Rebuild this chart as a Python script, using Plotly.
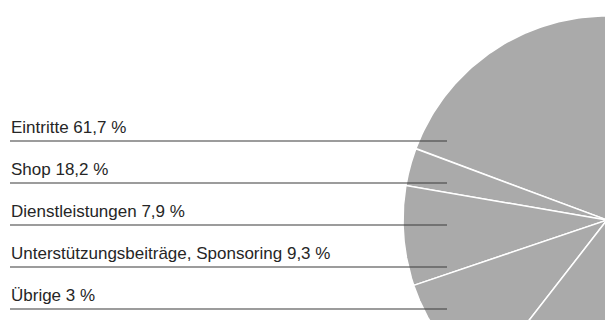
import numpy as np
import plotly.graph_objects as go

# ---- data ----
categories = ["Eintritte", "Shop", "Dienstleistungen",
              "Unterstützungsbeiträge, Sponsoring", "Übrige"]
shares = [61.7, 18.2, 7.9, 9.3, 3.0]
share_labels = ["61,7 %", "18,2 %", "7,9 %", "9,3 %", "3 %"]
# order in which the slices are laid around the pie (counter‑clockwise from Eintritte)
slice_order = ["Eintritte", "Übrige", "Dienstleistungen",
               "Unterstützungsbeiträge, Sponsoring", "Shop"]

# ---- layout parameters ----
W, H = 605, 320
CX, CY, R = 607, 220, 204          # pie centre / radius (screen pixel space)
END_ANGLE_FIRST = 159.5            # degrees (math convention) where first slice ends
PIE_GREY = "#aaaaaa"
TEXT_COL = "#262626"
LINE_COL = "#3a3a3a"
FONT = "Liberation Sans, Arial, sans-serif"

fig = go.Figure()

total = sum(shares)
val = dict(zip(categories, shares))
start = END_ANGLE_FIRST - val[slice_order[0]] / total * 360.0
for cat in slice_order:
    sweep = val[cat] / total * 360.0
    a = np.radians(np.linspace(start, start + sweep, 200))
    xs = np.concatenate([[CX], CX + R * np.cos(a), [CX]])
    ys = np.concatenate([[CY], CY - R * np.sin(a), [CY]])
    fig.add_trace(go.Scatter(
        x=xs, y=ys, mode="lines", fill="toself",
        fillcolor=PIE_GREY, line=dict(color="white", width=1.5),
        hoverinfo="text", text=f"{cat} {share_labels[categories.index(cat)]}",
        showlegend=False))
    start += sweep

# ---- labels with underline rules ----
first_rule_y, rule_gap = 141, 42
for i, (cat, lab) in enumerate(zip(categories, share_labels)):
    ry = first_rule_y + i * rule_gap
    fig.add_shape(type="line", x0=10, x1=447, y0=ry, y1=ry,
                  xref="x", yref="y", line=dict(color=LINE_COL, width=1.2))
    fig.add_annotation(x=9, y=ry - 14, xref="x", yref="y",
                       text=f"{cat} {lab}", showarrow=False,
                       xanchor="left", yanchor="middle",
                       font=dict(family=FONT, size=17, color=TEXT_COL))

fig.update_layout(
    width=W, height=H,
    margin=dict(l=0, r=0, t=0, b=0),
    paper_bgcolor="white", plot_bgcolor="white",
    xaxis=dict(range=[0, W], visible=False, fixedrange=True),
    yaxis=dict(range=[H, 0], visible=False, fixedrange=True),
    showlegend=False,
)

fig.write_html(
    "out.html",
    config={"displayModeBar": False},
    post_script="document.body.style.margin='0';document.body.style.overflow='hidden';",
)
